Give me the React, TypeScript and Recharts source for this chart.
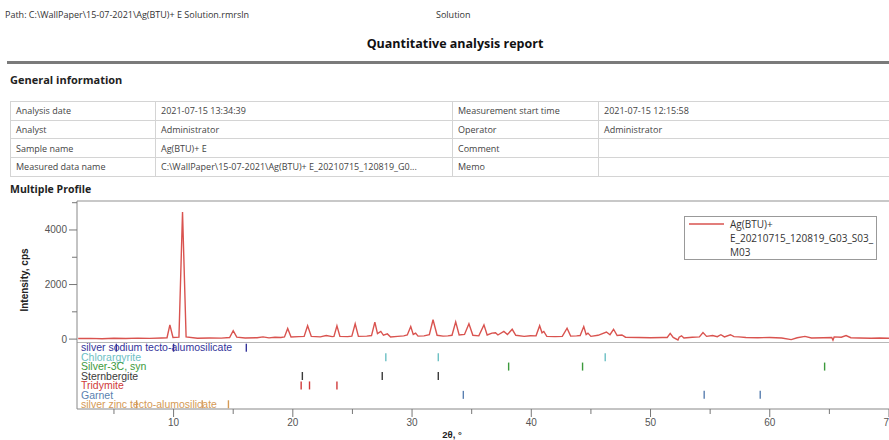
import {
  Label,
  Legend,
  Line,
  LineChart,
  ReferenceLine,
  Scatter,
  ScatterChart,
  XAxis,
  YAxis,
} from "recharts";

// measured profile, 2θ (deg) and intensity (cps)
const twoTheta = [
  2.0, 3.0, 4.0, 5.0, 6.0, 7.0, 8.0, 9.0, 9.45, 9.69,
  9.95, 10.45, 10.75, 11.05, 12.0, 13.0, 14.0, 14.7, 15.0, 15.3,
  16.0, 17.0, 17.5, 18.0, 18.5, 19.0, 19.3, 19.57, 19.85, 20.5,
  20.95, 21.24, 21.55, 22.3, 22.8, 23.3, 23.45, 23.7, 23.95, 24.6,
  24.95, 25.23, 25.5, 26.2, 26.6, 26.88, 27.1, 27.38, 27.6, 27.93,
  28.2, 28.8, 29.3, 29.6, 29.89, 30.1, 30.3, 30.5, 31.0, 31.45,
  31.76, 32.1, 32.6, 33.0, 33.35, 33.66, 33.95, 34.4, 34.77, 35.1,
  35.6, 36.03, 36.3, 36.7, 37.0, 37.2, 37.7, 38.0, 38.4, 38.7,
  39.4, 39.93, 40.4, 40.7, 40.9, 41.05, 41.3, 42.0, 42.6, 43.0,
  43.3, 43.8, 44.1, 44.4, 44.6, 44.75, 45.0, 45.6, 46.3, 46.6,
  46.9, 47.2, 47.6, 47.9, 49.0, 50.0, 51.0, 51.4, 51.65, 51.9,
  52.3, 52.4, 52.6, 52.8, 53.5, 54.1, 54.4, 54.7, 55.2, 55.6,
  55.9, 56.2, 56.7, 57.0, 57.4, 58.0, 59.0, 60.0, 61.0, 61.8,
  62.3, 62.95, 63.5, 64.5, 65.2, 65.3, 65.4, 66.0, 66.4, 66.8,
  67.5, 68.5, 69.2, 70.0,
];
const counts = [
  20, 28, 15, 32, 20, 35, 25, 40, 50, 520,
  60, 70, 4660, 80, 30, 40, 35, 60, 310, 70,
  40, 50, 80, 45, 70, 60, 80, 390, 80, 90,
  100, 490, 100, 80, 130, 90, 100, 490, 100, 90,
  110, 560, 100, 110, 130, 620, 200, 280, 140, 190,
  80, 100, 120, 150, 460, 170, 220, 110, 120, 160,
  710, 140, 110, 120, 140, 630, 150, 170, 560, 140,
  120, 520, 150, 220, 230, 150, 280, 170, 360, 140,
  100, 125, 120, 490, 230, 280, 100, 90, 100, 400,
  110, 120, 130, 460, 170, 220, 100, 140, 260, 160,
  360, 130, 150, 70, 60, 50, 60, 60, 210, 60,
  -30, 70, 120, 40, 70, 80, 240, 100, 130, 90,
  160, 80, 160, 90, 80, 60, 50, 60, 40, -20,
  50, 100, 40, 50, 60, -40, 80, 70, 130, 50,
  40, 30, 40, 30,
];

const legendLines = ["Ag(BTU)+", "E_20210715_120819_G03_S03_", "M03"];

const yTicks = [0, 1000, 2000, 3000, 4000, 5000];
const yLabelled = [0, 2000, 4000];
const xTicks = [5, 10, 15, 20, 25, 30, 35, 40, 45, 50, 55, 60, 65, 70];
const xLabelled = [10, 20, 30, 40, 50, 60, 70];

// reference phases and their line positions (2θ)
const phaseNames = [
  "silver sodium tecto-alumosilicate",
  "Chlorargyrite",
  "Silver-3C, syn",
  "Sternbergite",
  "Tridymite",
  "Garnet",
  "silver zinc tecto-alumosilicate",
];
const sodiumAlumosilicate = [5.2, 10.0, 16.1];
const chlorargyrite = [27.8, 32.2, 46.2];
const silver3C = [38.1, 44.3, 64.6];
const sternbergite = [20.8, 27.5, 32.2];
const tridymite = [20.7, 21.4, 23.7];
const garnet = [34.3, 54.5, 59.2];
const zincAlumosilicate = [6.9, 12.4, 14.6];

const infoRows = [
  ["Analysis date", "2021-07-15 13:34:39", "Measurement start time", "2021-07-15 12:15:58"],
  ["Analyst", "Administrator", "Operator", "Administrator"],
  ["Sample name", "Ag(BTU)+ E", "Comment", ""],
  ["Measured data name", "C:\\WallPaper\\15-07-2021\\Ag(BTU)+ E_20210715_120819_G0...", "Memo", ""],
];

const phaseColors = ["#33339a", "#6cc0c4", "#3c9a3c", "#3a3a3a", "#d03a3a", "#5a7fb0", "#d59a55"];
const phaseSets = [
  sodiumAlumosilicate,
  chlorargyrite,
  silver3C,
  sternbergite,
  tridymite,
  garnet,
  zincAlumosilicate,
];

const profile = twoTheta.map((t, i) => ({ t, i: counts[i] }));

const X_DOMAIN: [number, number] = [1.9, 70];
const Y_DOMAIN: [number, number] = [-143, 5062];
const CHART_FONT = "'Liberation Sans', Arial, sans-serif";
const REPORT_FONT = "'Open Sans', 'Noto Sans', sans-serif";

function IntensityTick({ x, y, payload }: any) {
  const major = yLabelled.includes(payload.value);
  return (
    <g>
      <line x1={x - (major ? 8 : 5)} x2={x} y1={y} y2={y} stroke="#777" />
      {major && (
        <text x={x - 10} y={y} dy="0.35em" textAnchor="end" fontSize={10} fill="#555" fontFamily={CHART_FONT}>
          {payload.value}
        </text>
      )}
    </g>
  );
}

function AngleTick({ x, y, payload }: any) {
  const major = xLabelled.includes(payload.value);
  return (
    <g>
      <line x1={x} x2={x} y1={y} y2={y + (major ? 8 : 5)} stroke="#777" />
      {major && (
        <text x={x} y={y + 13} dy="0.35em" textAnchor="middle" fontSize={10} fill="#555" fontFamily={CHART_FONT}>
          {payload.value}
        </text>
      )}
    </g>
  );
}

function PhaseLabel({ y, payload }: any) {
  const idx = payload.value;
  return (
    <text x={81} y={y} dy="0.35em" fontSize={10.5} fill={phaseColors[idx]} fontFamily={CHART_FONT}>
      {phaseNames[idx]}
    </text>
  );
}

function PhaseMark(color: string) {
  return (props: any) => (
    <line x1={props.cx} x2={props.cx} y1={props.cy - 4} y2={props.cy + 4} stroke={color} strokeWidth={1.4} />
  );
}

function ProfileLegend() {
  return (
    <div
      style={{
        border: "1px solid #999",
        background: "#fff",
        display: "flex",
        alignItems: "flex-start",
        fontFamily: REPORT_FONT,
        fontSize: 10,
        color: "#333",
        boxSizing: "border-box",
      }}
    >
      <svg width={45} height={14} style={{ flex: "none" }}>
        <line x1={4} x2={39} y1={7} y2={7} stroke="#d9534f" strokeWidth={1.5} />
      </svg>
      <div style={{ lineHeight: "14px" }}>
        {legendLines.map((l) => (
          <div key={l}>{l}</div>
        ))}
      </div>
    </div>
  );
}

export default function App() {
  const cell: React.CSSProperties = {
    border: "1px solid #d4d4d4",
    padding: "0 5px",
    height: 17.7,
    whiteSpace: "nowrap",
    overflow: "hidden",
  };
  return (
    <div
      style={{
        position: "absolute",
        left: 0,
        top: 0,
        width: 889,
        height: 440,
        overflow: "hidden",
        background: "#fff",
        fontFamily: REPORT_FONT,
        color: "#333",
      }}
    >
      <div style={{ position: "absolute", left: 5, top: 8, fontSize: 9 }}>
        Path: C:\WallPaper\15-07-2021\Ag(BTU)+ E Solution.rmrsln
      </div>
      <div style={{ position: "absolute", left: 436, top: 8, fontSize: 9 }}>Solution</div>
      <div
        style={{
          position: "absolute",
          left: 0,
          width: 910,
          top: 35,
          textAlign: "center",
          fontSize: 12.5,
          fontWeight: 700,
          color: "#111",
        }}
      >
        Quantitative analysis report
      </div>
      <div style={{ position: "absolute", left: 7, top: 61, width: 890, height: 3, background: "#7a7a7a" }} />
      <div style={{ position: "absolute", left: 10, top: 72, fontSize: 11, fontWeight: 700, color: "#222" }}>
        General information
      </div>
      <table
        style={{
          position: "absolute",
          left: 10,
          top: 101,
          width: 880,
          borderCollapse: "collapse",
          tableLayout: "fixed",
          fontSize: 9,
          color: "#444",
        }}
      >
        <colgroup>
          <col style={{ width: 145 }} />
          <col style={{ width: 297 }} />
          <col style={{ width: 146 }} />
          <col style={{ width: 292 }} />
        </colgroup>
        <tbody>
          {infoRows.map((row) => (
            <tr key={row[0]}>
              {row.map((c, j) => (
                <td key={j} style={cell}>
                  {c}
                </td>
              ))}
            </tr>
          ))}
        </tbody>
      </table>
      <div style={{ position: "absolute", left: 10, top: 182, fontSize: 10.5, fontWeight: 700, color: "#222" }}>
        Multiple Profile
      </div>

      <LineChart
        width={889}
        height={148}
        data={profile}
        margin={{ top: 6, right: 0, bottom: 0, left: 0 }}
        style={{ position: "absolute", left: 0, top: 195 }}
      >
        <XAxis type="number" dataKey="t" domain={X_DOMAIN} allowDataOverflow hide />
        <YAxis
          type="number"
          domain={Y_DOMAIN}
          ticks={yTicks}
          interval={0}
          allowDataOverflow
          width={77}
          tickSize={0}
          tickMargin={0}
          tickLine={false}
          axisLine={{ stroke: "#888" }}
          tick={<IntensityTick />}
        >
          <Label
            value="Intensity, cps"
            angle={-90}
            position="insideLeft"
            offset={24}
            dy={8}
            style={{ textAnchor: "middle", fontWeight: 700, fontSize: 10, fill: "#222", fontFamily: CHART_FONT }}
          />
        </YAxis>
        <ReferenceLine y={Y_DOMAIN[1]} stroke="#c8c8c8" strokeWidth={2} />
        <ReferenceLine y={Y_DOMAIN[0]} stroke="#b8b8b8" strokeWidth={2} />
        <Line
          type="linear"
          dataKey="i"
          name={legendLines.join(" ")}
          stroke="#d9534f"
          strokeWidth={1.4}
          dot={false}
          isAnimationActive={false}
        />
        <Legend
          layout="horizontal"
          align="center"
          verticalAlign="middle"
          content={<ProfileLegend />}
          wrapperStyle={{ left: 684, top: 21, width: 193, height: "auto" }}
        />
      </LineChart>

      <ScatterChart
        width={889}
        height={97}
        margin={{ top: 0, right: 0, bottom: 0, left: 0 }}
        style={{ position: "absolute", left: 0, top: 343 }}
      >
        <XAxis
          type="number"
          dataKey="t"
          domain={X_DOMAIN}
          allowDataOverflow
          ticks={xTicks}
          interval={0}
          height={31}
          tickSize={0}
          tickMargin={0}
          tickLine={false}
          axisLine={{ stroke: "#888" }}
          tick={<AngleTick />}
        >
          <Label
            value="2θ, °"
            position="insideBottom"
            offset={2}
            dx={-31}
            style={{ fontWeight: 700, fontSize: 9.5, fill: "#222", fontFamily: CHART_FONT }}
          />
        </XAxis>
        <YAxis
          type="number"
          dataKey="row"
          domain={[-0.5, 6.5]}
          reversed
          ticks={[0, 1, 2, 3, 4, 5, 6]}
          interval={0}
          width={77}
          tickSize={0}
          tickMargin={0}
          tickLine={false}
          axisLine={{ stroke: "#888" }}
          tick={<PhaseLabel />}
        />
        {phaseSets.map((set, row) => (
          <Scatter
            key={phaseNames[row]}
            data={set.map((t) => ({ t, row }))}
            shape={PhaseMark(phaseColors[row])}
            isAnimationActive={false}
          />
        ))}
      </ScatterChart>
    </div>
  );
}
